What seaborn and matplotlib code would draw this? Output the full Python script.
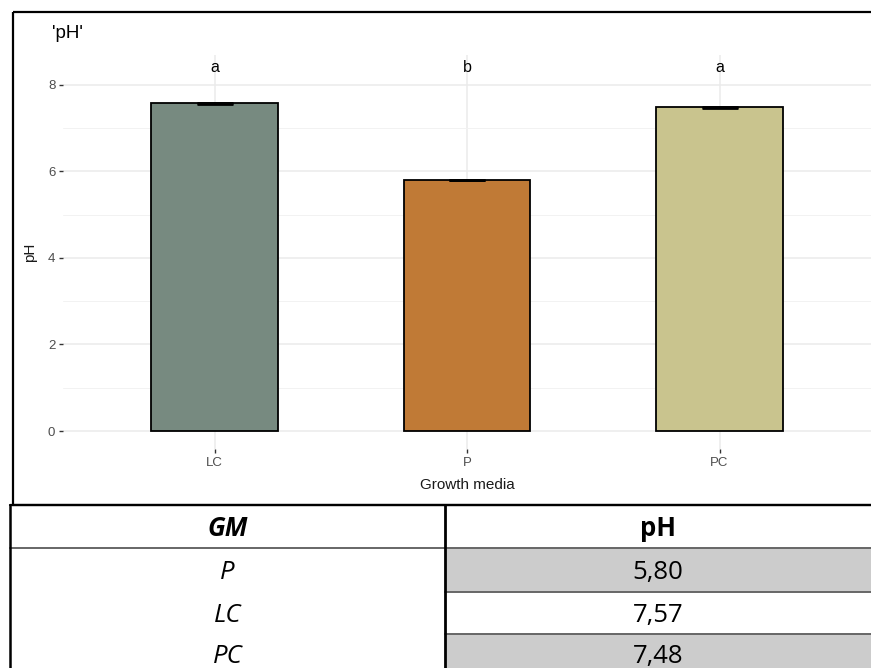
import matplotlib
matplotlib.use("Agg")
import matplotlib.pyplot as plt
import seaborn as sns
import pandas as pd
from matplotlib.patches import Rectangle
from matplotlib.lines import Line2D

# ---- data ----
categories = ["LC", "P", "PC"]
ph_values = [7.57, 5.80, 7.48]
ph_se = [0.01, 0.006, 0.015]
letters = ["a", "b", "a"]
bar_colors = ["#778A80", "#C07A36", "#C9C48E"]
table_order = ["P", "LC", "PC"]
yticks = [0, 2, 4, 6, 8]

W, H = 871, 668
sns.set_theme(style="white")
plt.rcParams["font.family"] = ["Liberation Sans", "DejaVu Sans"]
fig = plt.figure(figsize=(W / 100, H / 100), dpi=100)

# overlay in pixel coords for the frame and table
ov = fig.add_axes([0, 0, 1, 1])
ov.set_xlim(0, W)
ov.set_ylim(H, 0)
ov.axis("off")
ov.patch.set_alpha(0)

# panel axes
pl, pr, pt, pb = 63, 871, 55, 449
ax = fig.add_axes([pl / W, 1 - pb / H, (pr - pl) / W, (pb - pt) / H])
df = pd.DataFrame({"GM": categories, "pH": ph_values})
sns.barplot(data=df, x="GM", y="pH", hue="GM", palette=bar_colors, order=categories,
            hue_order=categories, saturation=1, width=0.5, edgecolor="black",
            linewidth=1.3, errorbar=None, legend=False, ax=ax, zorder=3)
ax.errorbar(range(len(categories)), ph_values, yerr=ph_se, fmt="none", ecolor="black",
            elinewidth=1.0, capsize=13, capthick=2, zorder=4)
for i, (v, l) in enumerate(zip(ph_values, letters)):
    ax.text(i, 8.4, l, ha="center", va="center", fontsize=11.5, color="black", zorder=5)

ax.set_xlim(-0.6, 2.6)
ax.set_ylim(-0.416, 8.69)
ax.set_yticks(yticks)
ax.set_yticks([1, 3, 5, 7], minor=True)
ax.grid(True, which="major", axis="both", color="#EBEBEB", linewidth=1.1, zorder=0)
ax.grid(True, which="minor", axis="y", color="#F2F2F2", linewidth=0.7, zorder=0)
ax.set_axisbelow(True)
for s in ax.spines.values():
    s.set_visible(False)
ax.tick_params(axis="both", which="major", length=3, width=1, color="#333333",
               labelcolor="#4d4d4d", labelsize=9.5, pad=2.5, bottom=True, left=True)
ax.tick_params(axis="both", which="minor", length=0)
ax.set_xlabel("Growth media", fontsize=11, color="#1a1a1a")
ax.xaxis.label.set_va("center")
ax.xaxis.set_label_coords(0.5, -(485 - pb) / (pb - pt))
ax.set_ylabel("pH", fontsize=11, color="#1a1a1a")
ax.yaxis.label.set_va("center")
ax.yaxis.set_label_coords(-(pl - 30) / (pr - pl), 0.5)
ax.patch.set_alpha(0)

fig.text(52 / W, 1 - 33 / H, "'pH'", fontsize=13.5, va="center", ha="left", color="black")

# chart frame
ov.add_patch(Rectangle((12.5, 12), 900, 492.5, fill=False, edgecolor="black", linewidth=1.6))

# ---- table ----
t_top, col_x, row_lines = 504.5, 445, [547.7, 591.7, 634, 678]
gray_rows = [0, 2]
for r in gray_rows:
    ov.add_patch(Rectangle((col_x, row_lines[r]), W - col_x, row_lines[r + 1] - row_lines[r],
                           facecolor="#CCCCCC", edgecolor="none"))
ov.add_line(Line2D([10, W], [row_lines[0]] * 2, color="#666666", linewidth=1.4))
for y in row_lines[1:3]:
    ov.add_line(Line2D([col_x, W], [y, y], color="#666666", linewidth=1.4))
ov.add_line(Line2D([10, W], [t_top, t_top], color="black", linewidth=1.6))
ov.add_line(Line2D([10, 10], [t_top, H], color="black", linewidth=1.8))
ov.add_line(Line2D([col_x, col_x], [t_top, H], color="black", linewidth=2.0))

tfam = ["Open Sans", "DejaVu Sans"]
fs = 18.5
ov.text((10 + col_x) / 2, 536, "GM", ha="center", va="baseline", fontsize=fs,
        fontweight="bold", fontstyle="italic", family=tfam, color="black")
ov.text((col_x + W) / 2, 536, "pH", ha="center", va="baseline", fontsize=fs,
        fontweight="bold", family=tfam, color="black")
val_map = dict(zip(categories, ph_values))
row_y = [579, 622, 663]
for gm, y in zip(table_order, row_y):
    ov.text((10 + col_x) / 2, y, gm, ha="center", va="baseline", fontsize=fs,
            fontstyle="italic", family=tfam, color="black")
    ov.text((col_x + W) / 2, y, f"{val_map[gm]:.2f}".replace(".", ","), ha="center",
            va="baseline", fontsize=fs, family=tfam, color="black")

fig.savefig("out.png", dpi=100)
